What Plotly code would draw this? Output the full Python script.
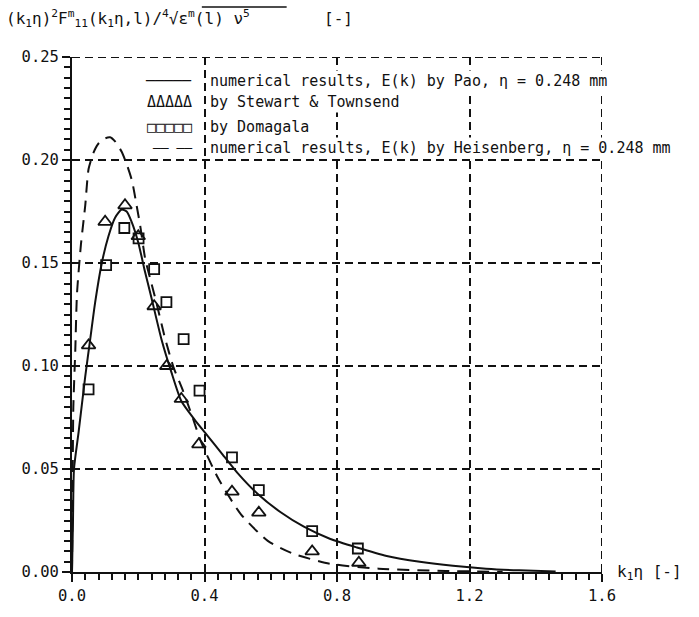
import plotly.graph_objects as go

# Numerical result, E(k) after Pao
pao_x = [0.0, 0.003, 0.006, 0.02, 0.04, 0.055, 0.07, 0.09, 0.11, 0.13, 0.15, 0.165,
         0.18, 0.2, 0.22, 0.24, 0.27, 0.3, 0.33, 0.37, 0.41, 0.45, 0.5, 0.56, 0.63,
         0.7, 0.78, 0.86, 0.95, 1.05, 1.15, 1.25, 1.35, 1.46]
pao_y = [0.0, 0.025, 0.05, 0.068, 0.095, 0.113, 0.131, 0.150, 0.163, 0.172, 0.176,
         0.175, 0.170, 0.160, 0.146, 0.133, 0.113, 0.097, 0.083, 0.074, 0.066, 0.058,
         0.048, 0.038, 0.029, 0.022, 0.016, 0.0119, 0.0078, 0.005, 0.003, 0.0016,
         0.0008, 0.0003]

# Numerical result, E(k) after Heisenberg
heis_x = [0.0, 0.002, 0.004, 0.01, 0.015, 0.027, 0.04, 0.05, 0.065, 0.08, 0.1, 0.115,
          0.13, 0.15, 0.165, 0.181, 0.195, 0.206, 0.221, 0.24, 0.256, 0.28, 0.306,
          0.335, 0.362, 0.39, 0.443, 0.51, 0.591, 0.671, 0.779, 0.926, 1.128, 1.3]
heis_y = [0.0, 0.045, 0.08, 0.108, 0.135, 0.159, 0.178, 0.1956, 0.2036, 0.208, 0.2105,
          0.211, 0.209, 0.204, 0.198, 0.19, 0.178, 0.168, 0.152, 0.14, 0.130, 0.114,
          0.0996, 0.088, 0.076, 0.063, 0.045, 0.028, 0.0151, 0.0087, 0.004, 0.0016,
          0.0005, 0.0001]

# Measurements by Stewart & Townsend
st_x = [0.05, 0.10, 0.16, 0.20, 0.248, 0.286, 0.33, 0.383, 0.483, 0.564, 0.725, 0.866]
st_y = [0.110, 0.170, 0.178, 0.163, 0.129, 0.100, 0.084, 0.062, 0.039, 0.0288, 0.010, 0.0045]

# Measurements by Domagala
dom_x = [0.05, 0.103, 0.158, 0.201, 0.248, 0.285, 0.337, 0.385, 0.483, 0.564, 0.725, 0.863]
dom_y = [0.0887, 0.149, 0.167, 0.162, 0.147, 0.131, 0.113, 0.088, 0.0556, 0.0397, 0.0198, 0.0114]

x_ticks = [0.0, 0.4, 0.8, 1.2, 1.6]
y_ticks = [0.00, 0.05, 0.10, 0.15, 0.20, 0.25]

legend_rows = [
    ("\u2500\u2500\u2500\u2500\u2500", 15, "numerical results, E(k) by Pao, \u03b7 = 0.248 mm"),
    ("\u0394\u0394\u0394\u0394\u0394", 15, "by Stewart & Townsend"),
    ("\u25a1\u25a1\u25a1\u25a1\u25a1", 15, "by Domagala"),
    ("\u2500\u2500 \u2500\u2500", 13, "numerical results, E(k) by Heisenberg, \u03b7 = 0.248 mm"),
]
legend_y = [0.2385, 0.2280, 0.2162, 0.2058]

FONT = "DejaVu Sans Mono, monospace"
INK = "#111111"

fig = go.Figure()
fig.add_trace(go.Scatter(x=pao_x, y=pao_y, mode="lines",
                         line=dict(color=INK, width=2, shape="spline", smoothing=0.6)))
fig.add_trace(go.Scatter(x=heis_x, y=heis_y, mode="lines",
                         line=dict(color=INK, width=2, dash="12px,8px",
                                   shape="spline", smoothing=0.6)))
fig.add_trace(go.Scatter(x=st_x, y=st_y, mode="markers",
                         marker=dict(symbol="triangle-up-open", size=12, color=INK,
                                     line=dict(width=1.8, color=INK))))
fig.add_trace(go.Scatter(x=dom_x, y=dom_y, mode="markers",
                         marker=dict(symbol="square-open", size=10, color=INK,
                                     line=dict(width=1.8, color=INK))))

# key: white-backed labels so the grid does not run through the text
for (sample, ssize, label), yy in zip(legend_rows, legend_y):
    fig.add_annotation(x=0.368, y=yy, xref="x", yref="y", text=sample, showarrow=False,
                       xanchor="right", yanchor="middle",
                       font=dict(family=FONT, size=ssize, color=INK))
    fig.add_annotation(x=0.41, y=yy, xref="x", yref="y", text=label, showarrow=False,
                       xanchor="left", yanchor="middle", bgcolor="white", borderpad=1,
                       font=dict(family=FONT, size=15, color=INK))

# axis titles
fig.add_annotation(
    x=-0.128, y=1.075, xref="paper", yref="paper", xanchor="left", yanchor="middle",
    showarrow=False, font=dict(family=FONT, size=16, color=INK),
    text="(k<sub>1</sub>\u03b7)<sup>2</sup>F<sup>m</sup><sub>11</sub>(k<sub>1</sub>\u03b7,l)/"
         "<sup>4</sup>\u221a\u03b5<sup>m</sup>(l) \u03bd<sup>5</sup>")
fig.add_annotation(x=0.502, y=1.075, xref="paper", yref="paper", xanchor="center",
                   yanchor="middle", showarrow=False, text="[-]",
                   font=dict(family=FONT, size=16, color=INK))
fig.add_annotation(x=1.024, y=0.0, xref="paper", yref="paper", xanchor="left",
                   yanchor="middle", showarrow=False,
                   text="k<sub>1</sub>\u03b7 [-]",
                   font=dict(family=FONT, size=16, color=INK))
# root vinculum over the radicand
fig.add_shape(type="line", xref="paper", yref="paper", x0=0.245, x1=0.405,
              y0=1.097, y1=1.097, line=dict(color=INK, width=1.5))

# dashed frame along the top and right edges of the grid
fig.add_shape(type="line", xref="x domain", yref="y", x0=0, x1=1,
              y0=y_ticks[-1], y1=y_ticks[-1], layer="below",
              line=dict(color=INK, width=2, dash="8px,5px"))
fig.add_shape(type="line", xref="x", yref="y domain", x0=x_ticks[-1], x1=x_ticks[-1],
              y0=0, y1=1, layer="below", line=dict(color=INK, width=2, dash="8px,5px"))

axis_common = dict(
    showline=True, linecolor=INK, linewidth=2,
    showgrid=True, gridcolor=INK, gridwidth=2, griddash="8px,5px",
    zeroline=False, ticks="outside", ticklen=8, tickwidth=2, tickcolor=INK,
    tickfont=dict(family=FONT, size=15.5, color=INK),
)

fig.update_xaxes(range=[0, 1.6], tickvals=x_ticks,
                 ticktext=[f"{v:.1f}" for v in x_ticks],
                 minor=dict(dtick=0.04, ticks="outside", ticklen=6, tickwidth=1.5,
                            tickcolor=INK, showgrid=False),
                 **axis_common)
fig.update_yaxes(range=[0, 0.25], tickvals=y_ticks,
                 ticktext=[f"{v:.2f}" for v in y_ticks],
                 minor=dict(dtick=0.005, ticks="outside", ticklen=6, tickwidth=1.5,
                            tickcolor=INK, showgrid=False),
                 **axis_common)

fig.update_layout(
    width=699, height=617,
    margin=dict(l=72, r=97, t=57, b=40),
    paper_bgcolor="white", plot_bgcolor="white",
    showlegend=False,
    font=dict(family=FONT, color=INK),
)

fig.write_html("out.html")
